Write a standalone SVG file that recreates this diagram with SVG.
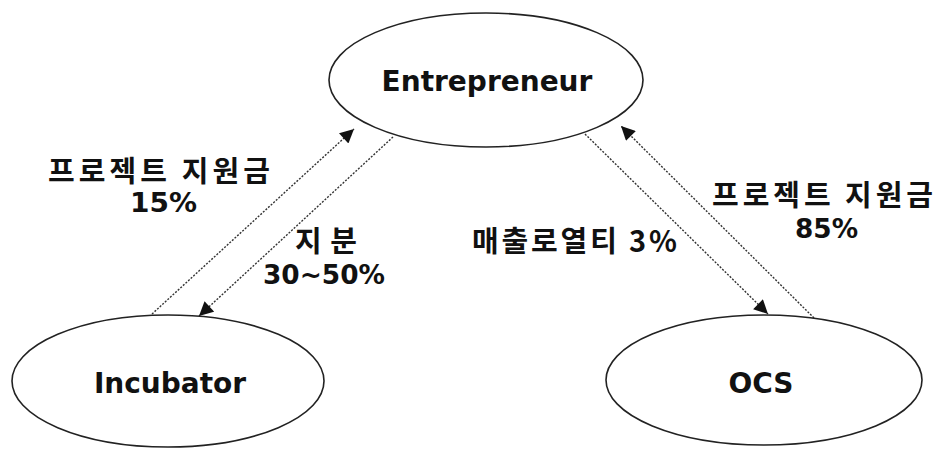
<svg xmlns="http://www.w3.org/2000/svg" width="938" height="450" viewBox="0 0 938 450">
  <style>
    .node { fill: #ffffff; stroke: #222222; stroke-width: 1.6; }
    .name { font-family: "DejaVu Sans", "Liberation Sans", sans-serif; font-weight: bold; font-size: 28px; fill: #111111; text-anchor: middle; }
    .lbl { font-family: "Noto Sans CJK KR", "DejaVu Sans", sans-serif; font-weight: bold; font-size: 29px; fill: #111111; }
    .num { font-family: "DejaVu Sans", "Liberation Sans", sans-serif; font-weight: bold; font-size: 26px; fill: #111111; }
    .flow { stroke: #333333; stroke-width: 1.4; stroke-dasharray: 2 1.5; fill: none; marker-end: url(#arrow); }
  </style>
  <defs>
    <marker id="arrow" viewBox="0 0 10 10" refX="10" refY="5" markerWidth="16" markerHeight="14" markerUnits="userSpaceOnUse" orient="auto">
      <path d="M0,0 L10,5 L0,10 Z" fill="#111111"/>
    </marker>
  </defs>

  <rect width="938" height="450" fill="#ffffff"/>

  <g id="connectors">
    <line class="flow" x1="152" y1="314" x2="354" y2="129"/>
    <line class="flow" x1="393" y1="137" x2="199" y2="316"/>
    <line class="flow" x1="585" y1="134" x2="768" y2="314"/>
    <line class="flow" x1="814" y1="318" x2="621" y2="126"/>
  </g>

  <g id="entrepreneur">
    <ellipse class="node" cx="486" cy="80" rx="157" ry="67"/>
    <text class="name" x="487" y="91">Entrepreneur</text>
  </g>

  <g id="incubator">
    <ellipse class="node" cx="168" cy="381" rx="156" ry="66"/>
    <text class="name" x="170" y="393">Incubator</text>
  </g>

  <g id="ocs">
    <ellipse class="node" cx="764" cy="380" rx="158" ry="65"/>
    <text class="name" x="761" y="393">OCS</text>
  </g>

  <g id="labels">
    <text class="lbl" x="48" y="182" textLength="222" lengthAdjust="spacing">프로젝트 지원금</text>
    <text class="num" x="130" y="212" textLength="67" lengthAdjust="spacingAndGlyphs">15%</text>
    <text class="lbl" x="295" y="252" textLength="62" lengthAdjust="spacing">지분</text>
    <text class="num" x="263" y="284" textLength="122" lengthAdjust="spacingAndGlyphs">30~50%</text>
    <text class="lbl" x="472" y="252" textLength="205" lengthAdjust="spacing">매출로열티 3%</text>
    <text class="lbl" x="712" y="206" textLength="221" lengthAdjust="spacing">프로젝트 지원금</text>
    <text class="num" x="795" y="238" textLength="63" lengthAdjust="spacingAndGlyphs">85%</text>
  </g>
</svg>
